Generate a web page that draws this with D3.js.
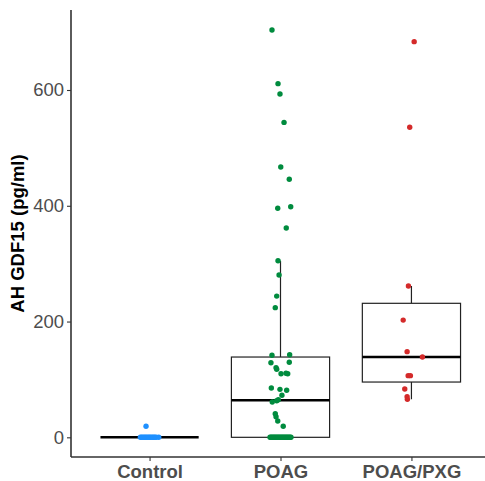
<!DOCTYPE html>
<html lang="en">
<head>
    <meta charset="UTF-8">
    <title>AH GDF15</title>
    <script src="https://d3js.org/d3.v7.min.js"></script>
    <style>
        body { margin: 0; background: #fff; }
        text { font-family: "Liberation Sans", Arial, sans-serif; }
    </style>
</head>
<body>
<div id="main"></div>
<script>
    // groups and their point colours
    const groups = ["Control", "POAG", "POAG/PXG"]
    const colors = ["#1E90FF", "#008B3E", "#D42A2A"]
    const yTicks = [0, 200, 400, 600]

    // values (pg/ml), with the jitter offset of each point (in category widths)
    const controlValues = [19, 0, 0, 0, 0, 0, 0, 0, 0, 0, 0, 0, 0, 0, 0]
    const controlJitter = [-0.027, -0.07, -0.06, -0.05, -0.04, -0.03, -0.02, -0.01, 0, 0.01, 0.02, 0.03, 0.04, 0.05, 0.07]

    const poagValues = [703.7, 611, 593, 544, 467, 445.7, 395.6, 398.4, 361.6, 305, 280.4, 244, 224,
        141.7, 142.7, 128.9, 129.6, 120.3, 117.5, 109.9, 109.9, 110.6, 85.2, 82.9, 81.2, 72.6,
        63.3, 61, 65, 40.8, 35.6, 28.2, 19,
        0, 0, 0, 0, 0, 0, 0, 0, 0, 0, 0, 0, 0, 0, 0, 0, 0, 0, 0, 0, 0]
    const poagJitter = [-0.065, -0.019, -0.004, 0.027, 0.002, 0.067, -0.021, 0.078, 0.044, -0.019, -0.011, -0.029, -0.040,
        -0.065, 0.070, -0.073, 0.067, -0.034, -0.029, 0.004, 0.055, 0.042, -0.070, -0.004, 0.047, 0.011,
        -0.029, -0.063, -0.017, -0.040, -0.034, -0.021, 0.021,
        -0.08, -0.072, -0.064, -0.056, -0.048, -0.04, -0.032, -0.024, -0.016, -0.008, 0, 0.008, 0.016, 0.024, 0.032, 0.04, 0.048, 0.056, 0.064, 0.072, 0.08]

    const pxgValues = [683.5, 535.6, 261.4, 202.5, 148, 138.7, 106.5, 106.5, 83.5, 70, 65.6]
    const pxgJitter = [0.021, -0.013, -0.023, -0.063, -0.033, 0.084, -0.025, -0.008, -0.051, -0.033, -0.031]

    // box stats: [lower whisker, q1, median, q3, upper whisker]
    const controlBox = [0, 0, 0, 0, 0]
    const poagBox = [0, 0, 64, 138.7, 305]
    const pxgBox = [65.6, 95.5, 138.7, 231.5, 261.4]

    let width = 485, height = 481

    let svg = d3.select("#main")
        .append("svg")
        .attr("width", width)
        .attr("height", height)

    let XScale = d3.scalePoint()
        .domain(groups)
        .range([71, 490])
        .padding(0.6)

    let YScale = d3.scaleLinear()
        .domain([-34, 738.2])
        .range([457, 10])

    let step = XScale.step()

    let y_axis = d3.axisLeft(YScale)
        .tickValues(yTicks)
        .tickSize(4)
        .tickPadding(3)

    let x_axis = d3.axisBottom(XScale)
        .tickSize(4)
        .tickPadding(4)

    let yg = svg.append("g").attr("transform", "translate(71, 0)").call(y_axis)
    yg.select(".domain").attr("stroke", "#333").attr("stroke-width", 1.6)
        .attr("d", `M0,${YScale.range()[1]} V${YScale.range()[0]}`)
    yg.selectAll(".tick line").attr("stroke", "#333").attr("stroke-width", 1.1)
    yg.selectAll(".tick text")
        .attr("fill", "#4D4D4D")
        .style("font-size", "18.5px")

    let xg = svg.append("g").attr("transform", "translate(0, 457)").call(x_axis)
    xg.select(".domain").attr("stroke", "#333").attr("stroke-width", 1.6)
        .attr("d", "M71,0 H490")
    xg.selectAll(".tick line").attr("stroke", "#333").attr("stroke-width", 1.1)
    xg.selectAll(".tick text")
        .attr("fill", "#4D4D4D")
        .attr("dy", "0.71em")
        .style("font-size", "18.5px")
        .style("font-weight", "bold")

    svg.append("text")
        .attr("transform", `translate(24, ${(YScale.range()[0] + YScale.range()[1]) / 2}) rotate(-90)`)
        .attr("text-anchor", "middle")
        .attr("fill", "#000")
        .style("font-size", "18.5px")
        .style("font-weight", "bold")
        .text("AH GDF15 (pg/ml)")

    // boxes
    let boxData = [
        {group: groups[0], stats: controlBox},
        {group: groups[1], stats: poagBox},
        {group: groups[2], stats: pxgBox}
    ]
    let halfW = step * 0.375

    let boxes = svg.append("g").selectAll("g")
        .data(boxData)
        .enter()
        .append("g")

    boxes.append("path")
        .attr("d", d => {
            let cx = XScale(d.group)
            return `M${cx},${YScale(d.stats[4])} V${YScale(d.stats[3])} M${cx},${YScale(d.stats[1])} V${YScale(d.stats[0])}`
        })
        .attr("stroke", "#222")
        .attr("stroke-width", 1.2)
        .attr("fill", "none")

    boxes.append("rect")
        .attr("x", d => XScale(d.group) - halfW)
        .attr("y", d => YScale(d.stats[3]))
        .attr("width", halfW * 2)
        .attr("height", d => YScale(d.stats[1]) - YScale(d.stats[3]))
        .attr("fill", "#fff")
        .attr("stroke", "#222")
        .attr("stroke-width", 1.2)

    boxes.append("path")
        .attr("d", d => `M${XScale(d.group) - halfW},${YScale(d.stats[2])} H${XScale(d.group) + halfW}`)
        .attr("stroke", "#000")
        .attr("stroke-width", 2.6)

    // jittered points
    let pointData = []
    ;[[controlValues, controlJitter], [poagValues, poagJitter], [pxgValues, pxgJitter]].forEach((pair, gi) => {
        pair[0].forEach((v, i) => pointData.push({group: groups[gi], value: v, dx: pair[1][i], color: colors[gi]}))
    })

    svg.append("g").selectAll("circle")
        .data(pointData)
        .enter()
        .append("circle")
        .attr("cx", d => XScale(d.group) + d.dx * step)
        .attr("cy", d => YScale(d.value))
        .attr("r", 2.7)
        .attr("fill", d => d.color)
</script>
</body>
</html>
